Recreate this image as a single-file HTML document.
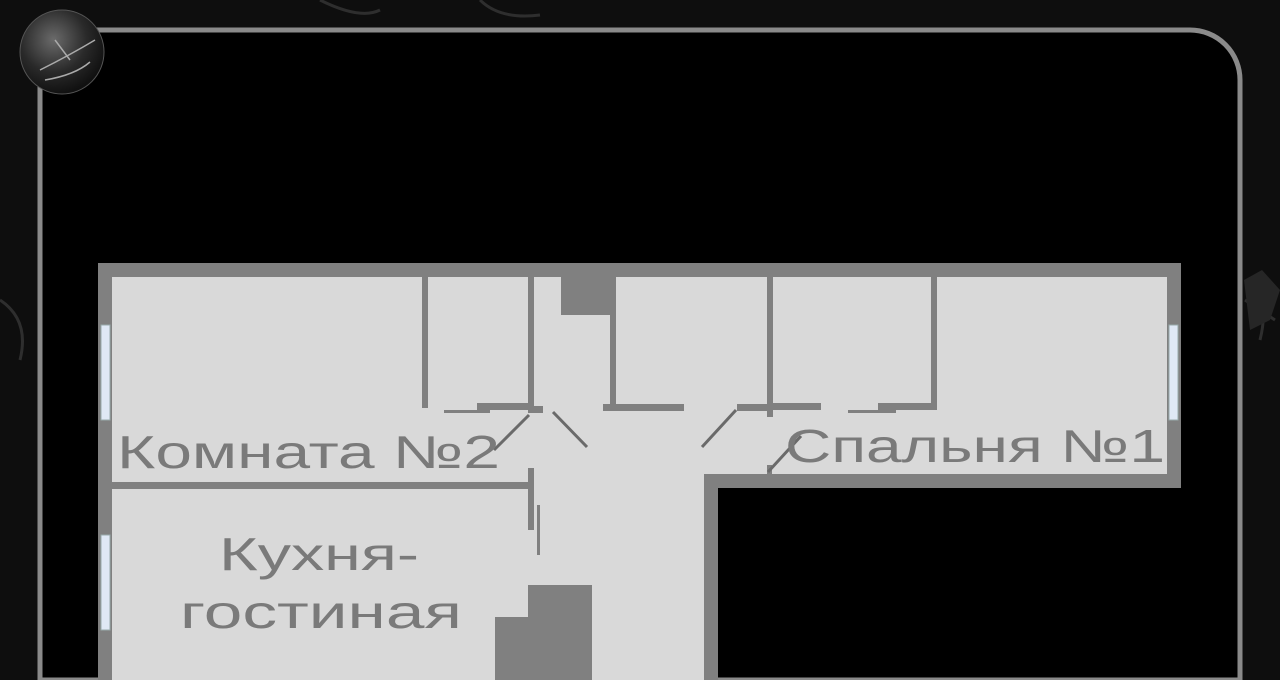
<!DOCTYPE html>
<html><head><meta charset="utf-8"><style>
html,body{margin:0;padding:0;width:1280px;height:680px;overflow:hidden;background:#0d0d0d}
</style></head><body>
<svg width="1280" height="680" viewBox="0 0 1280 680" xmlns="http://www.w3.org/2000/svg">
<defs>
<radialGradient id="ball" cx="40%" cy="35%" r="65%">
<stop offset="0" stop-color="#6a6a6a"/><stop offset="0.6" stop-color="#2a2a2a"/><stop offset="1" stop-color="#111"/>
</radialGradient>
</defs>
<rect width="1280" height="680" fill="#0e0e0e"/>
<path d="M0 300 Q30 320 20 360 M1250 280 Q1270 300 1260 340 M1245 300 l30 20 M320 0 Q360 20 380 10 M480 0 Q500 20 540 15" stroke="#2e2e2e" stroke-width="3" fill="none"/>
<path d="M1244 280 L1262 270 L1280 290 L1270 320 L1250 330 Z" fill="#262626"/>
<!-- frame -->
<path d="M40 680 V30 H1190 A50 50 0 0 1 1240 80 V680 Z" fill="#000" stroke="#8a8a8a" stroke-width="5"/>
<!-- ball -->
<circle cx="62" cy="52" r="42" fill="url(#ball)" stroke="#555" stroke-width="1"/>
<path d="M40 70 Q70 55 95 40 M55 40 L70 60 M45 80 Q75 75 90 62" stroke="#aaa" stroke-width="1.5" fill="none"/>
<!-- plan outer -->
<path d="M98 263 H1181 V488 H718 V680 H98 Z" fill="#808080"/>
<path d="M112 277 H1167 V474 H704 V680 H112 Z" fill="#d9d9d9"/>
<!-- windows -->
<rect x="101" y="325" width="9" height="95" fill="#dfe8f5" stroke="#9aa" stroke-width="1"/>
<rect x="101" y="535" width="9" height="95" fill="#dfe8f5" stroke="#9aa" stroke-width="1"/>
<rect x="1169" y="325" width="9" height="95" fill="#dfe8f5" stroke="#9aa" stroke-width="1"/>
<g fill="#808080">
<rect x="422" y="277" width="6" height="131"/>
<rect x="528" y="277" width="6" height="135"/>
<rect x="610" y="277" width="6" height="134"/>
<rect x="767" y="277" width="6" height="140"/>
<rect x="931" y="277" width="6" height="131"/>
<rect x="561" y="277" width="53" height="38"/>
<rect x="477" y="403" width="57" height="7"/>
<rect x="528" y="406" width="15" height="7"/>
<rect x="603" y="404" width="81" height="7"/>
<rect x="737" y="404" width="36" height="7"/>
<rect x="767" y="403" width="54" height="7"/>
<rect x="878" y="403" width="59" height="7"/>
<rect x="444" y="410" width="46" height="3"/>
<rect x="848" y="410" width="48" height="3"/>
<rect x="112" y="482" width="421" height="7"/>
<rect x="528" y="468" width="6" height="62"/>
<rect x="537" y="505" width="3" height="50"/>
<rect x="767" y="465" width="5" height="10"/>
<rect x="528" y="585" width="64" height="95"/>
<rect x="495" y="617" width="40" height="63"/>
</g>
<g stroke="#6a6a6a" stroke-width="3">
<line x1="529" y1="415" x2="494" y2="450"/>
<line x1="553" y1="412" x2="587" y2="447"/>
<line x1="736" y1="410" x2="702" y2="447"/>
<line x1="801" y1="436" x2="768" y2="472"/>
</g>
<g fill="#7a7a7a" font-family="Liberation Sans, sans-serif" font-size="46">
<text x="117" y="468" textLength="383" lengthAdjust="spacingAndGlyphs">Комната №2</text>
<text x="785" y="462" textLength="380" lengthAdjust="spacingAndGlyphs">Спальня №1</text>
<text x="219" y="570" textLength="200" lengthAdjust="spacingAndGlyphs">Кухня-</text>
<text x="180" y="628" textLength="282" lengthAdjust="spacingAndGlyphs">гостиная</text>
</g>
</svg>
</body></html>
